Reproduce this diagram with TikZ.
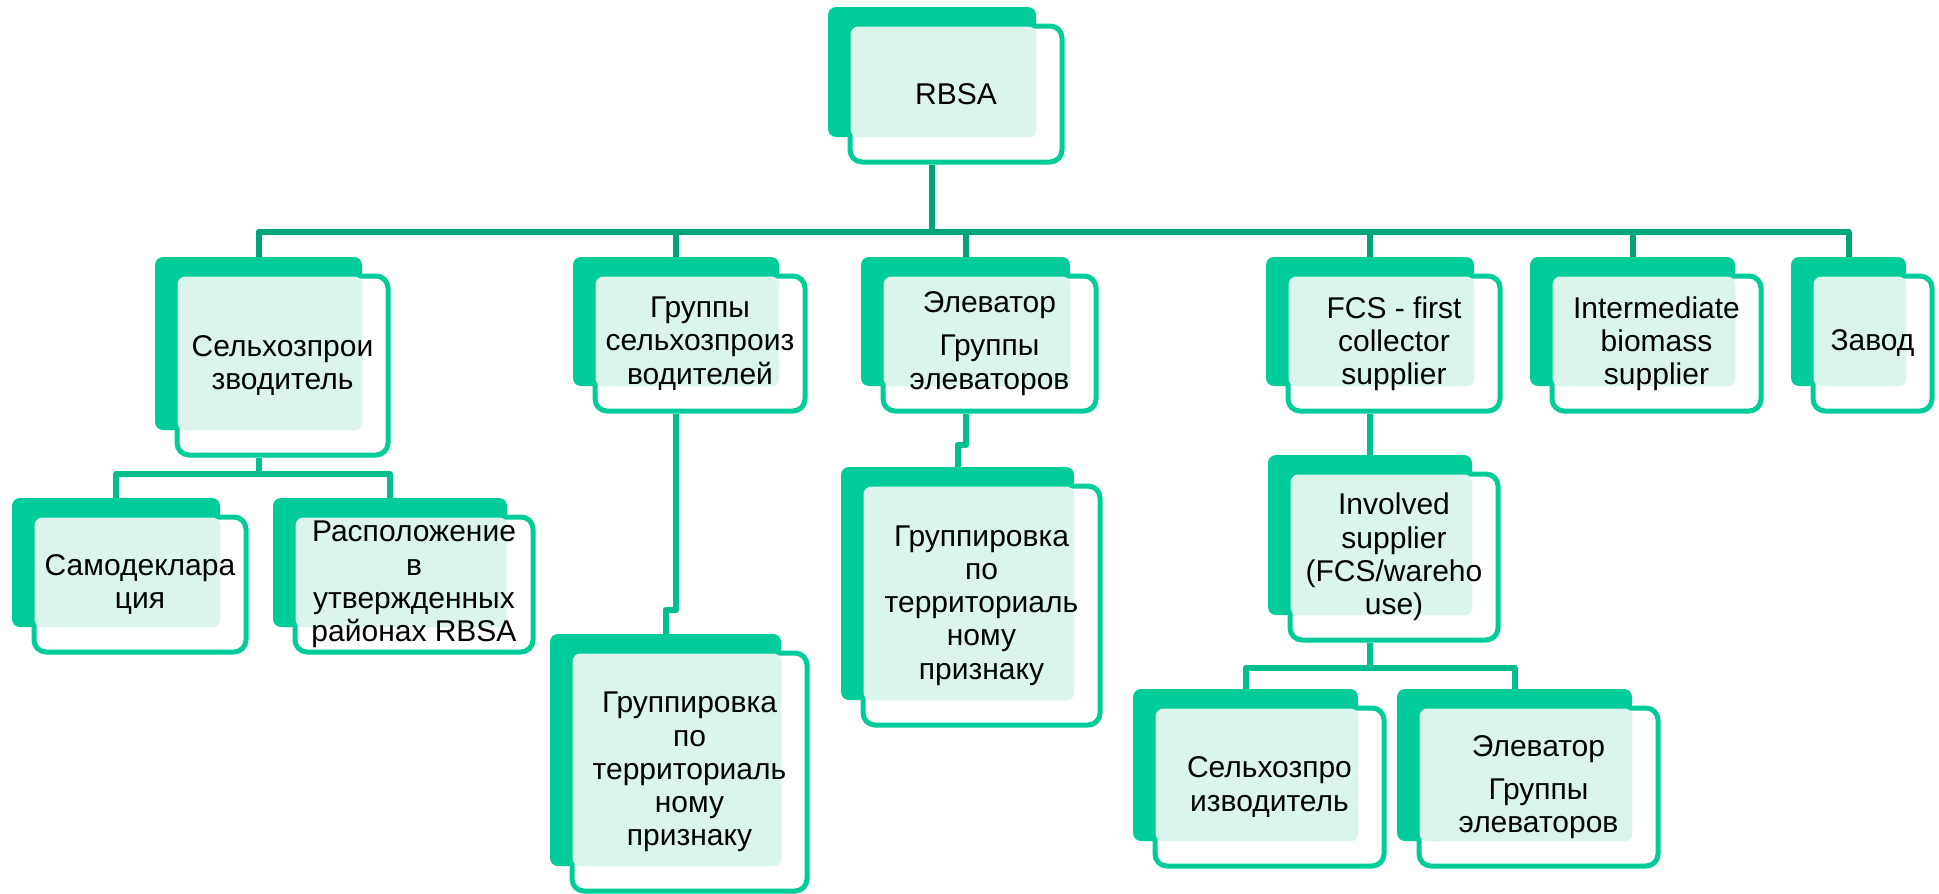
\documentclass[tikz,border=0pt]{standalone}
\usepackage{fontspec}
\setmainfont{Liberation Sans}
\usetikzlibrary{calc,fit}
\pgfdeclarelayer{bg}
\pgfsetlayers{bg,main}
\definecolor{boxg}{RGB}{0,204,153}
\definecolor{conng}{RGB}{0,166,122}
\definecolor{conlt}{RGB}{0,190,142}
\definecolor{mint}{RGB}{220,245,236}
\tikzset{
  backbox/.style={fill=boxg, draw=none, rounded corners=4pt, inner sep=0pt},
  frontbox/.style={draw=boxg, line width=2.5pt, fill=white, rounded corners=6pt, inner sep=0pt},
  txt/.style={align=center, font=\fontsize{15pt}{16.6pt}\selectfont, text=black, inner sep=0pt},
  conn/.style={draw=conng, line width=3pt, line join=round},
  connlt/.style={draw=conlt, line width=3pt, line join=round},
}
\newcommand\orgbox[6]{%
  \node[backbox, fit={(#2,#3) (#4,#5)}] (#1b) {};
  \node[frontbox, fit={($(#2,#3)+(22,19)$) ($(#4,#5)+(26,25)$)}] (#1) {};
  \fill[mint, rounded corners=4pt] ($(#1.north west)+(3,3)$) rectangle (#1b.south east);
  \node[txt] (#1t) at (#1) {#6};
}
\begin{document}
\begin{tikzpicture}[x=0.5pt, y=-0.5pt]
\useasboundingbox (0,0) rectangle (1939,894);
\orgbox{rbsa}{828}{7}{1036}{137}{RBSA}
\orgbox{sel}{155}{257}{362}{430}{Сельхозпрои\\зводитель}
\orgbox{grp}{573}{257}{779}{386}{Группы\\сельхозпроиз\\водителей}
\orgbox{elv}{861}{257}{1070}{386}{Элеватор\\[5pt]Группы\\элеваторов}
\orgbox{fcs}{1266}{257}{1474}{386}{FCS - first\\collector\\supplier}
\orgbox{inter}{1530}{257}{1735}{386}{Intermediate\\biomass\\supplier}
\orgbox{zav}{1791}{257}{1906}{386}{Завод}
\orgbox{samo}{12}{498}{220}{627}{Самодеклара\\ция}
\orgbox{rasp}{273}{498}{507}{627}{Расположение\\в\\утвержденных\\районах RBSA}
\orgbox{grpt}{550}{634}{781}{866}{Группировка\\по\\территориаль\\ному\\признаку}
\orgbox{elvt}{841}{467}{1074}{700}{Группировка\\по\\территориаль\\ному\\признаку}
\orgbox{inv}{1268}{455}{1472}{615}{Involved\\supplier\\(FCS/wareho\\use)}
\orgbox{selx}{1133}{689}{1358}{841}{Сельхозпро\\изводитель}
\orgbox{elvx}{1397}{689}{1632}{841}{Элеватор\\[5pt]Группы\\элеваторов}
\coordinate (bar) at (0,232);
\coordinate (barsel) at (0,474);
\coordinate (jgrp) at (0,610);
\coordinate (jelv) at (0,445);
\coordinate (barinv) at (0,668);
\begin{pgfonlayer}{bg}
\draw[conn] (rbsab.center |- rbsa.south) -- (rbsab.center |- bar);
\draw[conn] (selb.north) -- (selb.north |- bar) -- (zavb.north |- bar) -- (zavb.north);
\draw[conn] (grpb.north |- bar) -- (grpb.north);
\draw[conn] (elvb.north |- bar) -- (elvb.north);
\draw[conn] (fcsb.north |- bar) -- (fcsb.north);
\draw[conn] (interb.north |- bar) -- (interb.north);
\draw[connlt] (selb.center |- sel.south) -- (selb.center |- barsel);
\draw[connlt] (samob.north) -- (samob.north |- barsel) -- (raspb.north |- barsel) -- (raspb.north);
\draw[connlt] (grpb.center |- grp.south) -- (grpb.center |- jgrp) -- (grptb.north |- jgrp) -- (grptb.north);
\draw[connlt] (elvb.center |- elv.south) -- (elvb.center |- jelv) -- (elvtb.north |- jelv) -- (elvtb.north);
\draw[connlt] (invb.north |- fcs.south) -- (invb.north);
\draw[connlt] (invb.center |- inv.south) -- (invb.center |- barinv);
\draw[connlt] (selxb.north) -- (selxb.north |- barinv) -- (elvxb.north |- barinv) -- (elvxb.north);
\end{pgfonlayer}
\end{tikzpicture}
\end{document}
